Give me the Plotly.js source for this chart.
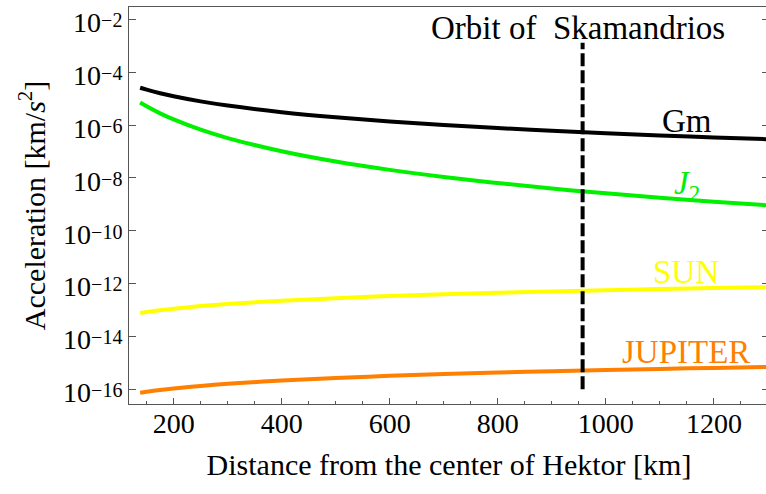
<!DOCTYPE html>
<html>
<head>
<meta charset="utf-8">
<script src="https://cdn.plot.ly/plotly-3.0.1.min.js"></script>
<style>
html,body{margin:0;padding:0;overflow:hidden;background:#fff;}
#chart{width:772px;height:494px;}
</style>
</head>
<body>
<div id="chart"></div>
<script>
// Distance from the center of Hektor [km]
const distance = [138, 150, 175, 200, 250, 300, 400, 500, 600, 700, 800, 900, 1000, 1100, 1200, 1300];
// Accelerations [km/s^2]
const accGm = [2.57e-5, 2.18e-5, 1.60e-5, 1.225e-5, 7.84e-6, 5.44e-6, 3.06e-6, 1.96e-6, 1.36e-6, 1.0e-6, 7.66e-7, 6.05e-7, 4.9e-7, 4.05e-7, 3.40e-7, 2.90e-7];
const accJ2 = [7.15e-6, 5.14e-6, 2.77e-6, 1.625e-6, 6.66e-7, 3.21e-7, 1.016e-7, 4.16e-8, 2.01e-8, 1.083e-8, 6.35e-9, 3.96e-9, 2.6e-9, 1.776e-9, 1.254e-9, 9.1e-10];
const accSun = [7.76e-14, 8.43e-14, 9.84e-14, 1.124e-13, 1.405e-13, 1.686e-13, 2.25e-13, 2.81e-13, 3.37e-13, 3.93e-13, 4.5e-13, 5.06e-13, 5.62e-13, 6.18e-13, 6.74e-13, 7.31e-13];
const accJupiter = [7.41e-17, 8.06e-17, 9.40e-17, 1.074e-16, 1.343e-16, 1.611e-16, 2.15e-16, 2.69e-16, 3.22e-16, 3.76e-16, 4.30e-16, 4.83e-16, 5.37e-16, 5.91e-16, 6.44e-16, 6.98e-16];
// Orbit of Skamandrios
const orbitX = [957, 957];
const orbitY = [1e-16, 1.3e-3];
const xTicks = [200, 400, 600, 800, 1000, 1200];
const yTickExponents = [-16, -14, -12, -10, -8, -6, -4, -2];
const seriesNames = ['Gm', 'J<sub>2</sub>', 'SUN', 'JUPITER'];

const FONT = '"Liberation Serif", "Times New Roman", serif';
const colors = ['#000000', '#00f000', '#ffff00', '#ff7f00'];
const series = [accGm, accJ2, accSun, accJupiter];

const traces = series.map((ys, i) => ({
  x: distance, y: ys, type: 'scatter', mode: 'lines',
  line: {color: colors[i], width: 4, shape: 'spline'},
  name: seriesNames[i], hoverinfo: 'skip'
}));
traces.push({
  x: orbitX, y: orbitY, type: 'scatter', mode: 'lines',
  line: {color: '#000', width: 4, dash: '13px,4px'},
  name: 'Orbit of Skamandrios', hoverinfo: 'skip'
});

const labelFont = (c) => ({family: FONT, size: 33, color: c});
const layout = {
  width: 772, height: 494,
  margin: {l: 129, r: 3, t: 7, b: 90},
  paper_bgcolor: '#fff', plot_bgcolor: '#fff',
  showlegend: false,
  font: {family: FONT, color: '#000'},
  xaxis: {
    range: [117.4, 1302],
    tickvals: xTicks, ticktext: xTicks.map(String),
    ticks: 'inside', ticklen: 6, tickwidth: 1, tickcolor: '#555',
    minor: {dtick: 50, tick0: 0, ticks: 'inside', ticklen: 3, tickwidth: 1, tickcolor: '#555', showgrid: false},
    showline: true, linecolor: '#555', linewidth: 1, mirror: true,
    showgrid: false, zeroline: false,
    ticklabeloverflow: 'allow', ticklabelstandoff: -6,
    tickfont: {family: FONT, size: 28, color: '#000'},
    title: {text: 'Distance from the center of Hektor [km]', font: {family: FONT, size: 30, color: '#000'}, standoff: 16}
  },
  yaxis: {
    type: 'log', range: [-16.557, -1.534],
    tickvals: yTickExponents.map(e => Math.pow(10, e)),
    ticktext: yTickExponents.map(e => '<span style="baseline-shift:-3px">10</span><span style="font-size:20px;baseline-shift:2px">\u2212' + Math.abs(e) + '</span>'),
    ticks: 'inside', ticklen: 7, tickwidth: 1, tickcolor: '#555',
    showline: true, linecolor: '#555', linewidth: 1, mirror: 'ticks',
    showgrid: false, zeroline: false,
    ticklabeloverflow: 'allow',
    tickfont: {family: FONT, size: 28, color: '#000'}
  },
  annotations: [
    {x: -0.152, y: 0.5, xref: 'paper', yref: 'paper', text: 'Acceleration [km/<i>s</i><sup>2</sup>]', textangle: -90, showarrow: false, font: {family: FONT, size: 30, color: '#000'}, xanchor: 'center', yanchor: 'middle'},
    {x: 948.5, y: -2.347, xref: 'x', yref: 'y', text: 'Orbit of  Skamandrios', showarrow: false, font: labelFont('#000'), xanchor: 'center', yanchor: 'middle'},
    {x: 1150, y: -5.847, xref: 'x', yref: 'y', text: seriesNames[0], showarrow: false, font: labelFont(colors[0]), xanchor: 'center', yanchor: 'middle'},
    {x: 1150, y: -8.30, xref: 'x', yref: 'y', text: '<i>J</i><sub>2</sub>', showarrow: false, font: labelFont(colors[1]), xanchor: 'center', yanchor: 'middle'},
    {x: 1149, y: -11.579, xref: 'x', yref: 'y', text: seriesNames[2], showarrow: false, font: labelFont(colors[2]), xanchor: 'center', yanchor: 'middle'},
    {x: 1149, y: -14.606, xref: 'x', yref: 'y', text: seriesNames[3], showarrow: false, font: labelFont(colors[3]), xanchor: 'center', yanchor: 'middle'}
  ]
};
Plotly.newPlot('chart', traces, layout, {staticPlot: true, displayModeBar: false});
</script>
</body>
</html>
